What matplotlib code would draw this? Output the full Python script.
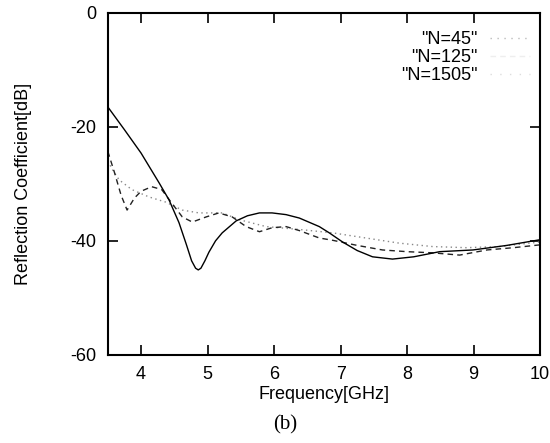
import matplotlib
matplotlib.use("Agg")
import matplotlib.pyplot as plt

# frequency [GHz] / reflection coefficient [dB]
f_45 = [3.5, 3.57, 3.67, 3.86, 4.12, 4.37, 4.62, 4.87, 5.22, 5.48, 5.88, 6.38,
        6.88, 7.38, 7.88, 8.38, 8.89, 9.39, 10.0]
r_45 = [-26.0, -27.5, -29.3, -31.0, -32.3, -33.2, -34.6, -35.1, -35.1, -36.3, -37.5, -38.0,
        -38.6, -39.5, -40.4, -41.0, -41.2, -41.0, -40.2]

f_125 = [3.5, 3.6, 3.7, 3.79, 3.9, 4.0, 4.16, 4.31, 4.45, 4.62, 4.77, 4.98, 5.17, 5.37,
         5.58, 5.78, 5.97, 6.18, 6.38, 6.68, 6.88, 7.25, 7.63, 8.0, 8.38, 8.79, 9.2, 9.6, 10.0]
r_125 = [-24.3, -28.0, -32.0, -34.6, -32.5, -31.3, -30.5, -31.0, -33.2, -35.8, -36.7, -35.8, -35.1, -35.8,
         -37.5, -38.4, -37.7, -37.5, -38.2, -39.5, -39.9, -40.8, -41.6, -41.9, -42.1, -42.5, -41.6, -41.2, -40.7]

f_1505 = [3.5, 3.75, 4.0, 4.27, 4.42, 4.57, 4.68, 4.76, 4.82, 4.86, 4.9, 4.96, 5.02, 5.12,
          5.22, 5.43, 5.6, 5.78, 5.97, 6.18, 6.38, 6.68, 6.83, 7.03, 7.25, 7.48, 7.78, 8.1,
          8.49, 8.99, 9.5, 10.0]
r_1505 = [-16.5, -20.5, -24.6, -29.8, -32.8, -36.8, -40.6, -43.5, -44.8, -45.1, -44.8, -43.5, -42.0, -40.0,
          -38.6, -36.5, -35.6, -35.1, -35.1, -35.4, -36.0, -37.5, -38.6, -40.2, -41.7, -42.8, -43.2, -42.8,
          -41.9, -41.6, -40.8, -39.8]

labels = ['"N=45"', '"N=125"', '"N=1505"']
xticks = [4, 5, 6, 7, 8, 9, 10]
yticks = [0, -20, -40, -60]

plt.rcParams['font.family'] = ['Liberation Sans', 'DejaVu Sans']
plt.rcParams['axes.unicode_minus'] = False

fig = plt.figure(figsize=(5.5, 4.43), dpi=100)
ax = fig.add_axes([0.196, 0.199, 0.786, 0.772])

ax.plot(f_45, r_45, color='#888888', lw=1.0, ls=(0, (1, 2.5)))
ax.plot(f_125, r_125, color='#222222', lw=1.0, ls=(0, (4, 3)))
ax.plot(f_1505, r_1505, color='black', lw=1.0)

# legend samples are nearly washed out in the scan
h1, = ax.plot([], [], color='#bbbbbb', lw=1.0, ls=(0, (1, 4)))
h2, = ax.plot([], [], color='#eeeeee', lw=1.0, ls=(0, (4, 3)))
h3, = ax.plot([], [], color='#dddddd', lw=1.0, ls=(0, (1, 6)))
ax.legend([h1, h2, h3], labels, loc='upper right', bbox_to_anchor=(1.0, 0.975),
          frameon=False, markerfirst=False, fontsize=13, handlelength=2.2,
          labelspacing=0.05, borderaxespad=0.15, handletextpad=0.7)

ax.set_xlim(3.5, 10)
ax.set_ylim(-60, 0)
ax.set_xticks(xticks)
ax.set_yticks(yticks)
ax.tick_params(direction='in', length=7, width=1.2, labelsize=13, top=True, right=True, pad=8)
for s in ax.spines.values():
    s.set_linewidth(1.5)

ax.set_xlabel('Frequency[GHz]', fontsize=13, labelpad=2)
ax.set_ylabel('Reflection Coefficient[dB]', fontsize=13, labelpad=28)

fig.text(0.518, 0.04, '(b)', family='Liberation Serif', fontsize=15, ha='center', va='center')

fig.savefig('out.png', dpi=100)
